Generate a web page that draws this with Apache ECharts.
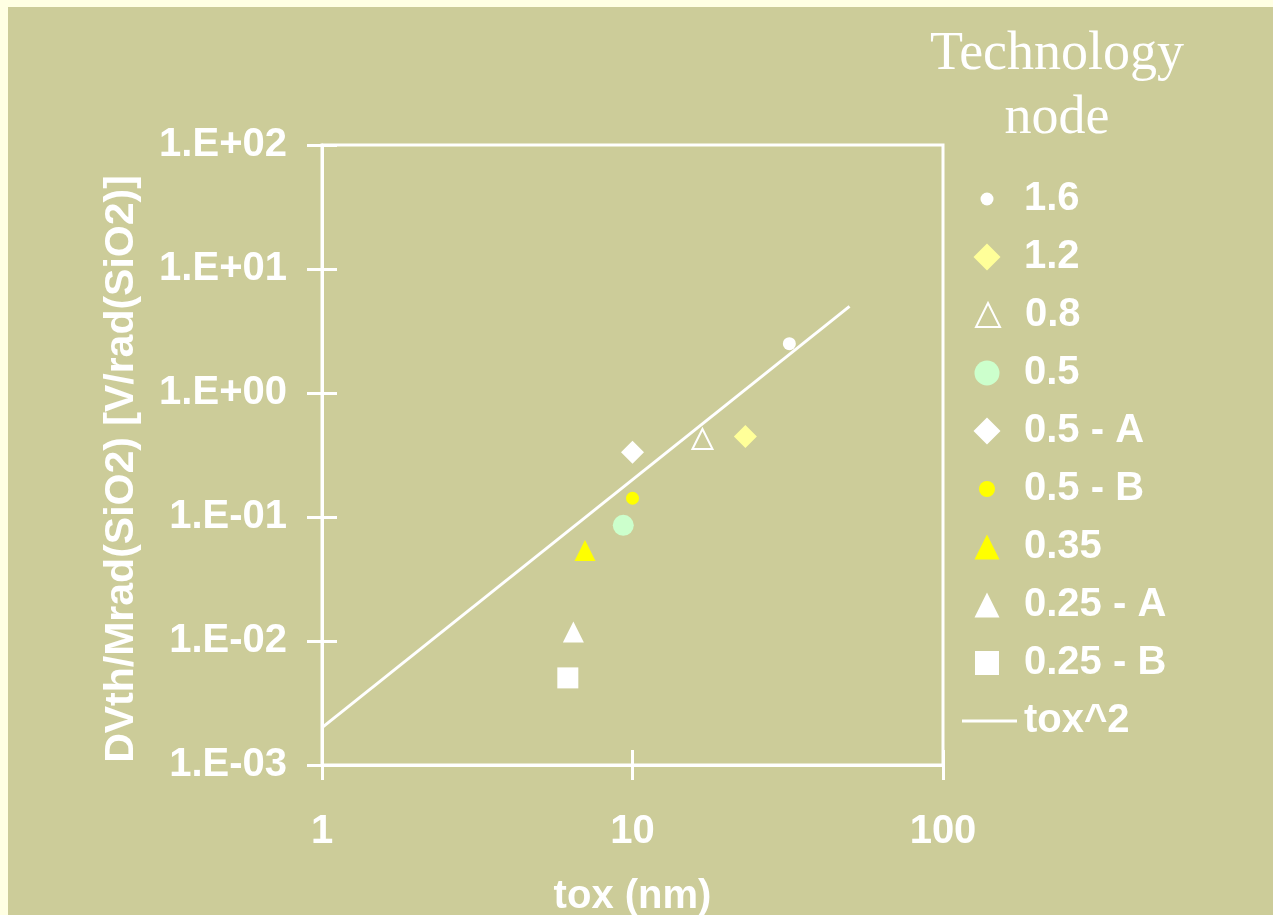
<!DOCTYPE html>
<html>
<head>
<meta charset="utf-8">
<script src="https://cdn.jsdelivr.net/npm/echarts@6/dist/echarts.min.js"></script>
<style>
  html, body { margin: 0; padding: 0; background: #CCCC99; width: 1273px; height: 915px; overflow: hidden; }
  #frameTop { position: absolute; left: 0; top: 0; width: 1273px; height: 7px; background: #FFFFE3; }
  #frameLeft { position: absolute; left: 0; top: 0; width: 8px; height: 915px; background: #FFFFE3; }
  #chart { position: absolute; left: 8px; top: 7px; width: 1265px; height: 910px; }
</style>
</head>
<body>
<div id="frameTop"></div>
<div id="frameLeft"></div>
<div id="chart"></div>
<script>
// Technology nodes and their measured threshold-voltage shift per Mrad vs oxide thickness
const nodes = ['1.6', '1.2', '0.8', '0.5', '0.5 - A', '0.5 - B', '0.35', '0.25 - A', '0.25 - B'];
const toxNm = [32.0, 23.1, 16.8, 9.34, 10.0, 10.0, 7.03, 6.45, 6.19];
const dvthPerMrad = [2.5, 0.445, 0.426, 0.0857, 0.333, 0.1416, 0.0538, 0.0118, 0.00504];

// tox^2 reference line (end points)
const fitName = 'tox^2';
const fitTox = [1, 50];
const fitDvth = [0.002, 5];

// axis tick labels
const xTickLabels = ['1', '10', '100'];
const yTickLabels = ['1.E-03', '1.E-02', '1.E-01', '1.E+00', '1.E+01', '1.E+02'];

// marker look per node
const markerStyles = [
  { symbol: 'circle', size: 13, legendSize: 13, color: '#FFFFFF' },
  { symbol: 'diamond', size: 23, legendSize: 27, color: '#FFFF99' },
  { symbol: 'triangle', size: 20, legendSize: 24, color: 'rgba(0,0,0,0)', border: '#FFFFFF', borderWidth: 2 },
  { symbol: 'circle', size: 21, legendSize: 25, color: '#CCFFCC' },
  { symbol: 'diamond', size: 23, legendSize: 27, color: '#FFFFFF' },
  { symbol: 'circle', size: 13, legendSize: 16, color: '#FFFF00' },
  { symbol: 'triangle', size: 21, legendSize: 25, color: '#FFFF00' },
  { symbol: 'triangle', size: 21, legendSize: 25, color: '#FFFFFF' },
  { symbol: 'rect', size: 21, legendSize: 24, color: '#FFFFFF' }
];

const FONT = 'Liberation Sans, Arial, sans-serif';
const WHITE = '#FFFFFF';

function expOf(v) { return Math.round(Math.log10(v)); }

const scatterSeries = nodes.map((name, i) => {
  const st = markerStyles[i];
  return {
    name: name,
    type: 'scatter',
    xAxisIndex: 0,
    yAxisIndex: 0,
    symbol: st.symbol,
    symbolSize: st.size,
    itemStyle: {
      color: st.color,
      borderColor: st.border || st.color,
      borderWidth: st.borderWidth || 0,
      opacity: 1
    },
    data: [[toxNm[i], dvthPerMrad[i]]],
    z: 3
  };
});

const lineSeries = {
  name: fitName,
  type: 'line',
  xAxisIndex: 0,
  yAxisIndex: 0,
  symbol: 'none',
  showSymbol: false,
  lineStyle: { color: WHITE, width: 3 },
  itemStyle: { color: WHITE },
  data: fitTox.map((t, i) => [t, fitDvth[i]]),
  z: 2
};

// legend column: marker centred at markerX, text starting at textX
const markerX = 979, textX = 1016, rowTop = 195, rowStep = 58;
const legendText = { color: WHITE, fontFamily: FONT, fontWeight: 'bold', fontSize: 40 };

const legends = nodes.map((name, i) => {
  const st = markerStyles[i];
  const s = st.legendSize;
  return {
    data: [{
      name: name,
      icon: st.symbol,
      itemStyle: {
        color: st.color,
        borderColor: st.border || st.color,
        borderWidth: st.borderWidth || 0
      }
    }],
    left: markerX - s / 2,
    top: rowTop + i * rowStep - 23,
    padding: 0,
    itemWidth: s,
    itemHeight: s,
    selectedMode: false,
    textStyle: Object.assign({}, legendText, { padding: [0, 0, 0, textX - (markerX + s / 2) - 5] })
  };
});
legends.push({
  data: [{ name: fitName, icon: 'rect', itemStyle: { color: WHITE, borderWidth: 0 } }],
  left: 954,
  top: rowTop + nodes.length * rowStep - 23,
  padding: 0,
  itemWidth: 55,
  itemHeight: 3,
  selectedMode: false,
  textStyle: Object.assign({}, legendText, { padding: [0, 0, 0, textX - 954 - 55 - 5] })
});

const axisText = { color: WHITE, fontFamily: FONT, fontWeight: 'bold', fontSize: 40 };

const option = {
  animation: false,
  backgroundColor: '#CCCC99',
  grid: {
    left: 314, top: 138, right: 330, bottom: 152,
    outerBoundsMode: 'none',
    containLabel: false,
    show: true, borderColor: WHITE, borderWidth: 3, backgroundColor: 'transparent'
  },
  graphic: [{
    type: 'text',
    x: 1049,
    y: 16,
    style: {
      text: 'Technology\nnode',
      fill: WHITE,
      font: '54px "Liberation Serif", "Times New Roman", serif',
      align: 'center',
      verticalAlign: 'top',
      lineHeight: 64
    }
  }],
  legend: legends,
  xAxis: [{
    type: 'log', logBase: 10, min: 1, max: 100,
    name: 'tox (nm)', nameLocation: 'middle', nameGap: 112,
    nameTextStyle: axisText,
    axisLine: { show: true, onZero: false, lineStyle: { color: WHITE, width: 3 } },
    axisTick: { show: true, inside: false, length: 15, lineStyle: { color: WHITE, width: 3 } },
    axisLabel: {
      margin: 47, ...axisText,
      formatter: v => xTickLabels[expOf(v)]
    },
    splitLine: { show: false },
    minorTick: { show: false }
  }, {
    type: 'log', logBase: 10, min: 1, max: 100, position: 'bottom',
    axisLine: { show: false },
    axisTick: { show: true, inside: true, length: 15, lineStyle: { color: WHITE, width: 3 } },
    axisLabel: { show: false },
    splitLine: { show: false }
  }],
  yAxis: [{
    type: 'log', logBase: 10, min: 0.001, max: 100,
    name: 'DVth/Mrad(SiO2) [V/rad(SiO2)]', nameLocation: 'middle', nameGap: 180, nameRotate: 90,
    nameTextStyle: Object.assign({}, axisText, { fontSize: 41, padding: [0, 28, 0, 0] }),
    axisLine: { show: true, onZero: false, lineStyle: { color: WHITE, width: 3 } },
    axisTick: { show: true, inside: false, length: 15, lineStyle: { color: WHITE, width: 3 } },
    axisLabel: {
      margin: 35, ...axisText,
      formatter: v => yTickLabels[expOf(v) + 3]
    },
    splitLine: { show: false }
  }, {
    type: 'log', logBase: 10, min: 0.001, max: 100, position: 'left',
    axisLine: { show: false },
    axisTick: { show: true, inside: true, length: 15, lineStyle: { color: WHITE, width: 3 } },
    axisLabel: { show: false },
    splitLine: { show: false }
  }],
  series: [lineSeries, ...scatterSeries]
};

const chart = echarts.init(document.getElementById('chart'), null, { renderer: 'canvas' });
chart.setOption(option);
</script>
</body>
</html>
